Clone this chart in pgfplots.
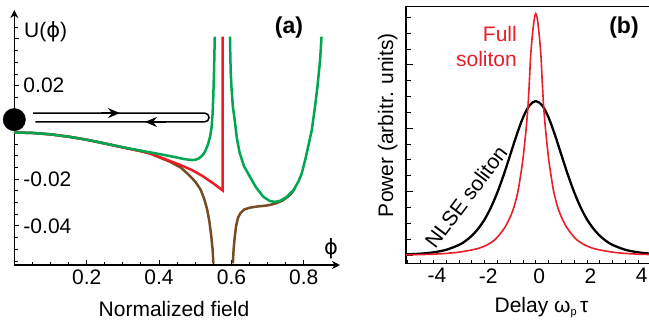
\documentclass[border=0pt]{standalone}
\usepackage{pgfplots}
\pgfplotsset{compat=1.18}
\usepackage{fontspec}
\setmainfont{Liberation Sans}
\newfontfamily\dejavu{DejaVu Sans}
\usetikzlibrary{arrows.meta}
\definecolor{cgreen}{RGB}{0,166,81}
\definecolor{cred}{RGB}{237,28,36}
\definecolor{cbrown}{RGB}{117,76,36}
\definecolor{bred}{RGB}{232,30,40}
\begin{document}
\fontsize{21bp}{25bp}\selectfont
\begin{tikzpicture}
\useasboundingbox (0,0) rectangle (649bp,327bp);
\clip (0,0) rectangle (649bp,327bp);
% ---------------- panel (a)
\begin{axis}[
  at={(14.3bp,62bp)}, anchor=south west, scale only axis,
  width=325.7bp, height=255bp,
  xmin=0, xmax=0.9, ymin=-0.0567, ymax=0.0524,
  scaled x ticks=false, scaled y ticks=false,
  axis x line=bottom, axis y line=left,
  x axis line style={line width=1.2bp,-{Stealth[length=8bp,width=8bp]}},
  y axis line style={line width=1.2bp,-{Stealth[length=8bp,width=8bp]}},
  xtick={0.2,0.4,0.6,0.8}, xticklabels={0.2,0.4,0.6,0.8},
  minor xtick={0.05,0.1,0.15,0.25,0.3,0.35,0.45,0.5,0.55,0.65,0.7,0.75},
  ytick={-0.04,-0.02,0,0.02,0.04}, yticklabels={-0.04,-0.02,{},0.02,{}},
  minor ytick={-0.055,-0.05,-0.045,-0.035,-0.03,-0.025,-0.015,-0.01,-0.005,0.005,0.01,0.015,0.025,0.03,0.035,0.045},
  tick align=inside, major tick length=5bp, minor tick length=3.2bp,
  tick style={line width=1bp, black},
  tick label style={font=\fontsize{21bp}{25bp}\selectfont},
  yticklabel style={anchor=west, inner sep=0pt, xshift=9bp},
  xticklabel style={inner sep=0pt, yshift=-5bp},
  clip=false,
]
\addplot[cbrown, line width=2.5bp] coordinates {
(0,0) (0.05,-0.0002) (0.1,-0.0008) (0.15,-0.0018) (0.2,-0.0031) (0.25,-0.0047)
(0.3,-0.0064) (0.35,-0.0080) (0.375,-0.0090) (0.40,-0.0106) (0.43,-0.0125) (0.46,-0.0150)
(0.48,-0.0178) (0.50,-0.0210) (0.515,-0.0245) (0.525,-0.0285) (0.533,-0.0330)
(0.539,-0.0380) (0.544,-0.0440) (0.548,-0.0500) (0.550,-0.0560)};
\addplot[cbrown, line width=2.5bp] coordinates {
(0.604,-0.0560) (0.606,-0.050) (0.609,-0.045) (0.613,-0.040) (0.618,-0.0365)
(0.625,-0.0345) (0.635,-0.0330) (0.650,-0.0322) (0.67,-0.0317) (0.70,-0.0312)
(0.72,-0.0305) (0.74,-0.0292) (0.755,-0.0276) (0.765,-0.0262) (0.775,-0.0240)};
\addplot[cred, line width=2.5bp] coordinates {
(0,0) (0.05,-0.0002) (0.1,-0.0008) (0.15,-0.0018) (0.2,-0.0031) (0.25,-0.0047)
(0.3,-0.0064) (0.35,-0.0080) (0.375,-0.0089) (0.42,-0.0116) (0.46,-0.0140)
(0.49,-0.0160) (0.52,-0.0186) (0.55,-0.0218) (0.576,-0.0248) (0.576,0.041)};
\addplot[cgreen, line width=2.5bp] coordinates {
(0,0) (0.05,-0.0002) (0.1,-0.0008) (0.15,-0.0018) (0.2,-0.0031) (0.25,-0.0047)
(0.3,-0.0063) (0.35,-0.0078) (0.4,-0.0092) (0.44,-0.0104) (0.47,-0.0114)
(0.49,-0.0118) (0.50,-0.0117) (0.51,-0.0111) (0.52,-0.0098) (0.527,-0.0082)
(0.535,-0.0052) (0.541,-0.0018) (0.545,0.002) (0.548,0.0082) (0.550,0.016)
(0.552,0.0268) (0.553,0.034) (0.554,0.041)};
\addplot[cgreen, line width=2.5bp] coordinates {
(0.596,0.041) (0.597,0.032) (0.598,0.026) (0.600,0.0196) (0.604,0.011) (0.609,0.0054)
(0.615,-0.0025) (0.623,-0.0089) (0.635,-0.0145) (0.651,-0.0189) (0.668,-0.0235)
(0.688,-0.0275) (0.706,-0.0293) (0.72,-0.0297) (0.735,-0.0292) (0.752,-0.0277)
(0.771,-0.0248) (0.785,-0.021) (0.794,-0.0177) (0.805,-0.011) (0.812,-0.0061)
(0.822,0.001) (0.831,0.011) (0.838,0.02) (0.845,0.031) (0.849,0.041)};
\draw[line width=1.5bp] (axis cs:0.052,0.0083) -- (axis cs:0.526,0.0083)
   arc[start angle=90, end angle=-90, radius=4.4bp] -- (axis cs:0.058,0.0045);
\draw[line width=1.5bp,-{Stealth[length=12bp,width=10bp,inset=4bp]}] (axis cs:0.24,0.0083) -- (axis cs:0.292,0.0083);
\draw[line width=1.5bp,-{Stealth[length=12bp,width=10bp,inset=4bp]}] (axis cs:0.42,0.0045) -- (axis cs:0.361,0.0045);
\addplot[only marks, mark=*, mark size=11.2bp, black] coordinates {(0,0.0055)};
\end{axis}
% ---------------- panel (b)
\begin{axis}[
  at={(406bp,63.7bp)}, anchor=south west, scale only axis,
  width=259.6bp, height=256.6bp,
  xmin=-5.07, xmax=5.07, ymin=-0.131, ymax=3.92,
  axis line style={line width=1.2bp},
  xtick={-4,-2,0,2,4}, xticklabels={-4,-2,0,2,4},
  minor xtick={-5,-4.5,-3.5,-3,-2.5,-1.5,-1,-0.5,0.5,1,1.5,2.5,3,3.5,4.5,5},
  ytick={0,1,2,3}, yticklabels={},
  minor ytick={0.25,0.5,0.75,1.25,1.5,1.75,2.25,2.5,2.75,3.25,3.5,3.75},
  xtick pos=bottom, ytick pos=left, tick align=inside,
  xtick style={line width=1bp, black, /pgfplots/major tick length=3.6bp, /pgfplots/minor tick length=3.6bp},
  ytick style={line width=1bp, black, /pgfplots/major tick length=7bp, /pgfplots/minor tick length=4.5bp},
  tick label style={font=\fontsize{21bp}{25bp}\selectfont},
  xticklabel style={inner sep=0pt, yshift=-5bp, xshift=3.5bp},
]
\addplot[black, line width=2.3bp, smooth] coordinates {
(-5.1,0.009) (-4.5,0.021) (-4,0.042) (-3.5,0.082) (-3,0.159) (-2.75,0.220) (-2.5,0.304)
(-2.25,0.416) (-2,0.561) (-1.75,0.753) (-1.5,0.990) (-1.25,1.270) (-1,1.579)
(-0.75,1.893) (-0.5,2.169) (-0.25,2.361) (0,2.43) (0.25,2.361) (0.5,2.169)
(0.75,1.893) (1,1.579) (1.25,1.270) (1.5,0.990) (1.75,0.753) (2,0.561) (2.25,0.416)
(2.5,0.304) (2.75,0.220) (3,0.159) (3.5,0.082) (4,0.042) (4.5,0.021) (5.1,0.009)};
\addplot[bred, line width=1.6bp, smooth] coordinates {
(-5.1,0.003) (-4.5,0.007) (-4,0.013) (-3.5,0.025) (-3,0.045) (-2.5,0.08) (-2.2,0.11)
(-1.9,0.16) (-1.6,0.24) (-1.4,0.33) (-1.2,0.44) (-1,0.60) (-0.85,0.76) (-0.7,1.00)
(-0.6,1.24) (-0.5,1.52) (-0.4,1.90) (-0.35,2.12) (-0.3,2.38) (-0.25,2.75) (-0.2,3.15)
(-0.15,3.4) (-0.1,3.6) (-0.05,3.75) (0,3.81) (0.05,3.75) (0.1,3.6) (0.15,3.4)
(0.2,3.15) (0.25,2.75) (0.3,2.38) (0.35,2.12) (0.4,1.90) (0.5,1.52) (0.6,1.24)
(0.7,1.00) (0.85,0.76) (1,0.60) (1.2,0.44) (1.4,0.33) (1.6,0.24) (1.9,0.16)
(2.2,0.11) (2.5,0.08) (3,0.045) (3.5,0.025) (4,0.013) (4.5,0.007) (5.1,0.003)};
\end{axis}
% ---------------- text
\node[anchor=base west, inner sep=0pt] at (24bp,289bp) {U({\dejavu ϕ})};
\node[inner sep=0pt] at (331bp,78.5bp) {{\dejavu ϕ}};
\node[inner sep=0pt, font=\fontsize{23bp}{27bp}\selectfont\bfseries] at (289bp,299bp) {(a)};
\node[anchor=base, inner sep=0pt] at (174bp,10.3bp) {Normalized field};
\node[inner sep=0pt, font=\fontsize{23bp}{27bp}\selectfont\bfseries] at (624bp,299.5bp) {(b)};
\node[anchor=base, inner sep=0pt, rotate=90] at (393bp,202bp) {Power (arbitr. units)};
\node[anchor=base, inner sep=0pt] at (541.5bp,15bp) {Delay ω\raisebox{-0.35ex}{\fontsize{11bp}{11bp}\selectfont p}\,τ};
\node[anchor=base east, inner sep=0pt, text=bred] at (517bp,285bp) {Full};
\node[anchor=base east, inner sep=0pt, text=bred] at (517bp,260.3bp) {soliton};
\node[inner sep=0pt, rotate=53] at (466bp,130bp) {NLSE soliton};
\end{tikzpicture}
\end{document}
